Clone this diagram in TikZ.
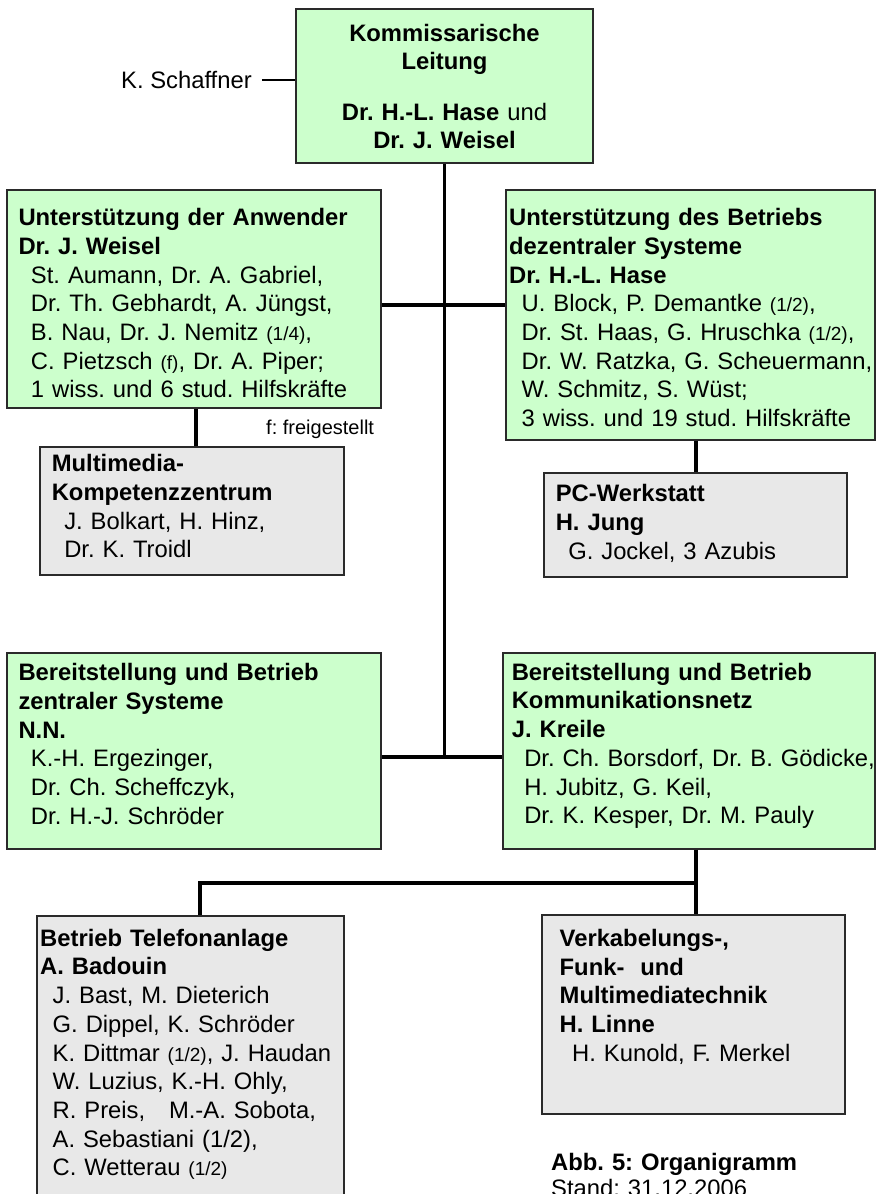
\documentclass[tikz,border=0pt]{standalone}
\usepackage{fontspec}
\setmainfont{Liberation Sans}
\usetikzlibrary{fit}
\definecolor{boxgreen}{HTML}{CCFFCC}
\definecolor{boxgray}{HTML}{E8E8E8}
\definecolor{edgecol}{HTML}{2A2A2A}
\newcommand\fs{\fontsize{23.8}{28.7}\selectfont\frenchspacing}
\newcommand\sm[1]{{\fontsize{19}{28.7}\selectfont #1}}
\newcommand\ind{\hspace*{12.5pt}}
\newcommand\st{\rule{0pt}{24pt}}
\frenchspacing
\begin{document}
\begin{tikzpicture}[x=1pt,y=-1pt,
  box/.style={draw=edgecol, line width=1.3pt, inner sep=0pt},
  greenbox/.style={box, fill=boxgreen},
  graybox/.style={box, fill=boxgray},
  txt/.style={anchor=north west, inner sep=0pt, text width=420pt, align=left, font=\fs},
  conn/.style={line width=3.8pt, black, line join=miter},
  thinline/.style={line width=1.3pt, black}]
\useasboundingbox (0,0) rectangle (876,1194);
\fill[white] (0,0) rectangle (876,1194);

% boxes
\node[greenbox, fit={(296,9) (593,163)}] (top) {};
\node[greenbox, fit={(7,190) (381,408)}] (ua) {};
\node[greenbox, fit={(506,190) (875,440)}] (ub) {};
\node[graybox, fit={(40,447) (344,575)}] (mm) {};
\node[graybox, fit={(544,473) (847,577)}] (pc) {};
\node[greenbox, fit={(7,653) (381,849)}] (bz) {};
\node[greenbox, fit={(503,653) (875,849)}] (bk) {};
\node[graybox, fit={(37,916) (344,1200)}] (bt) {};
\node[graybox, fit={(542,915) (845,1114)}] (vk) {};

% texts
\node[txt, anchor=north, align=center, text width=290pt] (top-t) at (444.5,17)
  {\st\textbf{Kommissarische}\\ \textbf{Leitung}\\[21.5pt] \textbf{Dr. H.-L. Hase} und\\ \textbf{Dr. J. Weisel}};

\node[anchor=base west, inner sep=0pt, font=\fs] (ks) at (121,88.5) {K. Schaffner};

\node[txt] (ua-t) at (18.3,201.5)
  {\textbf{\st Unterstützung der Anwender}\\
   \textbf{Dr. J. Weisel}\\
   \ind St. Aumann, Dr. A. Gabriel,\\
   \ind Dr. Th. Gebhardt, A. Jüngst,\\
   \ind B. Nau, Dr. J. Nemitz \sm{(1/4)},\\
   \ind C. Pietzsch \sm{(f)}, Dr. A. Piper;\\
   \ind 1 wiss. und 6 stud. Hilfskräfte};

\node[txt] (ub-t) at (509,201.5)
  {\textbf{\st Unterstützung des Betriebs}\\
   \textbf{dezentraler Systeme}\\
   \textbf{Dr. H.-L. Hase}\\
   \ind U. Block, P. Demantke \sm{(1/2)},\\
   \ind Dr. St. Haas, G. Hruschka \sm{(1/2)},\\
   \ind Dr. W. Ratzka, G. Scheuermann,\\
   \ind W. Schmitz, S. Wüst;\\
   \ind 3 wiss. und 19 stud. Hilfskräfte};

\node[anchor=base west, inner sep=0pt, font=\fontsize{20}{24}\selectfont] (ff) at (266,434) {f: freigestellt};

\node[txt] (mm-t) at (51.6,447.5)
  {\textbf{\st Multimedia-}\\
   \textbf{Kompetenzzentrum}\\
   \ind J. Bolkart, H. Hinz,\\
   \ind Dr. K. Troidl};

\node[txt] (pc-t) at (555.6,477.5)
  {\textbf{\st PC-Werkstatt}\\
   \textbf{H. Jung}\\
   \ind G. Jockel, 3 Azubis};

\node[txt] (bz-t) at (18.3,656.5)
  {\textbf{\st Bereitstellung und Betrieb}\\
   \textbf{zentraler Systeme}\\
   \textbf{N.N.}\\
   \ind K.-H. Ergezinger,\\
   \ind Dr. Ch. Scheffczyk,\\
   \ind Dr. H.-J. Schröder};

\node[txt] (bk-t) at (511.6,656)
  {\textbf{\st Bereitstellung und Betrieb}\\
   \textbf{Kommunikationsnetz}\\
   \textbf{J. Kreile}\\
   \ind Dr. Ch. Borsdorf, Dr. B. Gödicke,\\
   \ind H. Jubitz, G. Keil,\\
   \ind Dr. K. Kesper, Dr. M. Pauly};

\node[txt] (bt-t) at (40,922)
  {\textbf{\st Betrieb Telefonanlage}\\
   \textbf{A. Badouin}\\
   \ind J. Bast, M. Dieterich\\
   \ind G. Dippel, K. Schröder\\
   \ind K. Dittmar \sm{(1/2)}, J. Haudan\\
   \ind W. Luzius, K.-H. Ohly,\\
   \ind R. Preis,\ \ \ M.-A. Sobota,\\
   \ind A. Sebastiani (1/2),\\
   \ind C. Wetterau \sm{(1/2)}};

\node[txt] (vk-t) at (559.5,922.3)
  {\textbf{\st Verkabelungs-,}\\
   \textbf{Funk-\ \ und}\\
   \textbf{Multimediatechnik}\\
   \textbf{H. Linne}\\
   \ind H. Kunold, F. Merkel};

\node[txt] (cap) at (551,1146)
  {\textbf{\st Abb. 5: Organigramm}\\[-2pt]
   Stand: 31.12.2006};

% connectors
\coordinate (jA) at (444.5,305);
\coordinate (jB) at (444.5,757);
\coordinate (xM) at (196,0);
\coordinate (xP) at (696,0);
\coordinate (jC) at (696,883);
\coordinate (jD) at (200,883);

\draw[thinline] ([xshift=10pt]ks.east) -- (ks.east -| top.west);
\draw[conn] (top.south) -- (top.south |- jB);
\draw[conn] (ua.east |- jA) -- (ub.west |- jA);
\draw[conn] (bz.east |- jB) -- (bk.west |- jB);
\draw[conn] (ua.south -| xM) -- (mm.north -| xM);
\draw[conn] (ub.south -| xP) -- (pc.north -| xP);
\draw[conn] (bk.south -| jC) -- (vk.north -| jC);
\draw[conn] (jC) -- (jD) -- (bt.north -| jD);
\end{tikzpicture}
\end{document}
